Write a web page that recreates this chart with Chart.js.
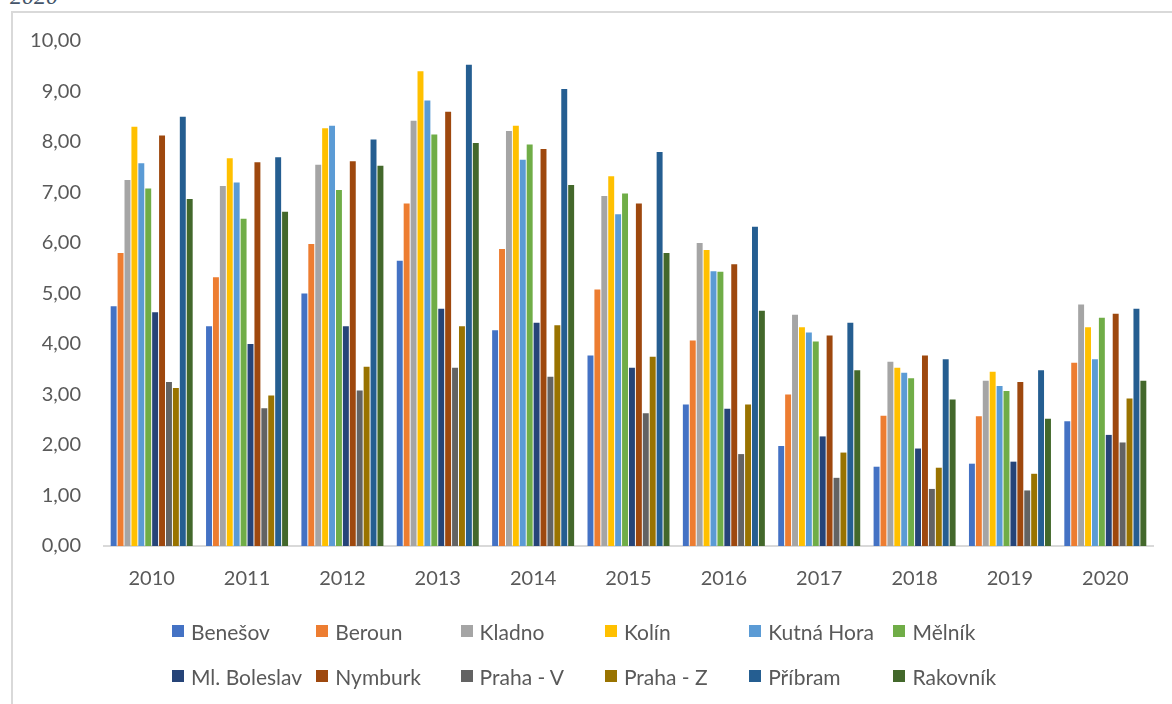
<!DOCTYPE html>
<html>
<head>
<meta charset="utf-8">
<script src="https://cdn.jsdelivr.net/npm/chart.js@4.4.1/dist/chart.umd.min.js"></script>
<style>
    html, body { margin: 0; padding: 0; background: #fff; overflow: hidden; }
    #wrap { position: relative; width: 1172px; height: 704px; overflow: hidden; font-family: Lato, sans-serif; }
    #frame { position: absolute; left: 11px; top: 11px; width: 1300px; height: 900px; border-left: 2px solid #d9d9d9; border-top: 2px solid #d9d9d9; }
    #title { position: absolute; left: 10px; top: -17px; font: italic 24px "Liberation Serif", serif; color: #44546a; }
    canvas { position: absolute; left: 0; top: 0; }
    #legend { position: absolute; left: 172px; top: 620px; display: grid; grid-template-columns: repeat(6, 144.3px); row-gap: 23px; }
    .legend-item { display: flex; align-items: center; height: 22px; font-size: 21px; color: #595959; white-space: nowrap; }
    .legend-box { width: 12px; height: 12px; margin-right: 7px; flex: none; }
</style>
</head>
<body>
<div id="wrap">
    <div id="frame"></div>
    <div id="title">2020</div>
    <canvas id="districtChart" width="1172" height="704"></canvas>
    <div id="legend"></div>
</div>
<script>
let chart;

// categories
const years = ['2010', '2011', '2012', '2013', '2014', '2015', '2016', '2017', '2018', '2019', '2020'];
const districts = ['Benešov', 'Beroun', 'Kladno', 'Kolín', 'Kutná Hora', 'Mělník',
                   'Ml. Boleslav', 'Nymburk', 'Praha - V', 'Praha - Z', 'Příbram', 'Rakovník'];

// values per district, 2010..2020
const benesov     = [4.75, 4.35, 5.00, 5.65, 4.27, 3.77, 2.80, 1.98, 1.57, 1.63, 2.47];
const beroun      = [5.80, 5.32, 5.98, 6.78, 5.88, 5.08, 4.07, 3.00, 2.58, 2.57, 3.63];
const kladno      = [7.25, 7.13, 7.55, 8.42, 8.22, 6.93, 6.00, 4.58, 3.65, 3.27, 4.78];
const kolin       = [8.30, 7.68, 8.27, 9.40, 8.32, 7.32, 5.86, 4.33, 3.53, 3.45, 4.33];
const kutnaHora   = [7.58, 7.20, 8.32, 8.82, 7.65, 6.57, 5.44, 4.23, 3.43, 3.17, 3.70];
const melnik      = [7.08, 6.48, 7.05, 8.15, 7.95, 6.98, 5.43, 4.05, 3.32, 3.07, 4.52];
const mlBoleslav  = [4.63, 4.00, 4.35, 4.70, 4.42, 3.53, 2.72, 2.17, 1.93, 1.67, 2.20];
const nymburk     = [8.13, 7.60, 7.62, 8.60, 7.86, 6.78, 5.58, 4.17, 3.77, 3.25, 4.60];
const prahaV      = [3.25, 2.73, 3.08, 3.53, 3.35, 2.63, 1.82, 1.35, 1.13, 1.10, 2.05];
const prahaZ      = [3.13, 2.98, 3.55, 4.35, 4.37, 3.75, 2.80, 1.85, 1.55, 1.43, 2.92];
const pribram     = [8.50, 7.70, 8.05, 9.53, 9.05, 7.80, 6.32, 4.42, 3.70, 3.48, 4.70];
const rakovnik    = [6.87, 6.62, 7.53, 7.98, 7.15, 5.80, 4.66, 3.48, 2.90, 2.52, 3.27];

const seriesValues = [benesov, beroun, kladno, kolin, kutnaHora, melnik,
                      mlBoleslav, nymburk, prahaV, prahaZ, pribram, rakovnik];

// office palette
const colors = ['#4472c4', '#ed7d31', '#a5a5a5', '#ffc000', '#5b9bd5', '#70ad47',
                '#264478', '#9e480e', '#636363', '#997300', '#255e91', '#43682b'];

const textColor = '#595959';
const tickFont = { family: 'Lato', size: 20 };

function buildLegend() {
    const legend = document.getElementById('legend');
    districts.forEach((name, i) => {
        const item = document.createElement('div');
        item.className = 'legend-item';
        item.innerHTML = `<span class="legend-box" style="background:${colors[i]}"></span>${name}`;
        legend.appendChild(item);
    });
}

function initChart() {
    const ctx = document.getElementById('districtChart').getContext('2d');
    chart = new Chart(ctx, {
        type: 'bar',
        data: {
            labels: years,
            datasets: districts.map((name, i) => ({
                label: name,
                data: seriesValues[i],
                backgroundColor: colors[i],
                borderWidth: 0,
                categoryPercentage: 0.87,
                barPercentage: 0.86
            }))
        },
        options: {
            responsive: false,
            animation: false,
            layout: { padding: { top: 41, right: 19, left: 0, bottom: 0 } },
            plugins: {
                legend: { display: false },
                tooltip: { enabled: false }
            },
            scales: {
                x: {
                    grid: { display: false, drawTicks: false },
                    border: { display: true, color: '#d9d9d9', width: 2 },
                    ticks: { color: textColor, font: tickFont, padding: 21 },
                    afterFit: s => { s.height = 158; }
                },
                y: {
                    min: 0,
                    max: 10,
                    grid: { display: false, drawTicks: false },
                    border: { display: false },
                    ticks: {
                        stepSize: 1,
                        color: textColor,
                        font: tickFont,
                        padding: 23,
                        callback: v => v.toFixed(2).replace('.', ',')
                    },
                    afterFit: s => { s.width = 104; }
                }
            }
        }
    });
}

buildLegend();
initChart();
</script>
</body>
</html>
